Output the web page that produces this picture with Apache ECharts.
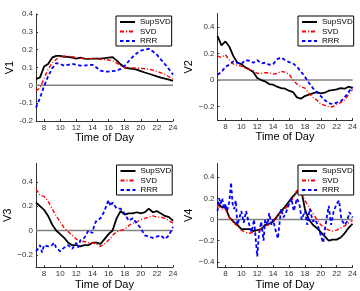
<!DOCTYPE html>
<html>
<head>
<meta charset="utf-8">
<script src="https://cdn.jsdelivr.net/npm/echarts@6/dist/echarts.min.js"></script>
<style>
  html, body { margin: 0; padding: 0; background: #fff; }
  #chart { width: 360px; height: 291px; }
</style>
</head>
<body>
<div id="chart"></div>
<script>
// half-hour grid used by the smooth curves
const hours = [7, 7.5, 8, 8.5, 9, 9.5, 10, 10.5, 11, 11.5, 12, 12.5, 13, 13.5, 14, 14.5, 15, 15.5,
  16, 16.5, 17, 17.5, 18, 18.5, 19, 19.5, 20, 20.5, 21, 21.5, 22, 22.5, 23, 23.5, 24];
const xTicks = [8, 10, 12, 14, 16, 18, 20, 22, 24];
const seriesNames = ["SupSVD", "SVD", "RRR"];

// V1
const v1Sup = [0.035, 0.045, 0.105, 0.12, 0.155, 0.165, 0.165, 0.16, 0.16, 0.155, 0.15, 0.155, 0.15, 0.148, 0.15, 0.15, 0.15, 0.152,
  0.155, 0.158, 0.14, 0.118, 0.1, 0.095, 0.093, 0.088, 0.08, 0.072, 0.065, 0.058, 0.05, 0.043, 0.037, 0.032, 0.025];
const v1Svd = [-0.03, -0.015, 0.04, 0.09, 0.125, 0.145, 0.16, 0.165, 0.163, 0.16, 0.155, 0.152, 0.15, 0.15, 0.15, 0.148, 0.147, 0.145,
  0.142, 0.138, 0.125, 0.11, 0.1, 0.1, 0.098, 0.096, 0.095, 0.093, 0.09, 0.085, 0.078, 0.07, 0.062, 0.048, 0.033];
const v1Rrr = [-0.125, -0.07, -0.005, 0.05, 0.095, 0.125, 0.12, 0.11, 0.115, 0.12, 0.115, 0.11, 0.11, 0.115, 0.115, 0.1, 0.082, 0.077,
  0.077, 0.08, 0.082, 0.092, 0.11, 0.135, 0.16, 0.18, 0.195, 0.2, 0.205, 0.19, 0.172, 0.145, 0.118, 0.09, 0.06];

// V2
const v2Sup = [0.33, 0.26, 0.29, 0.25, 0.18, 0.13, 0.12, 0.095, 0.08, 0.06, 0.015, 0.0, -0.01, -0.03, -0.035, -0.05, -0.06, -0.065,
  -0.08, -0.09, -0.13, -0.14, -0.12, -0.11, -0.1, -0.09, -0.1, -0.095, -0.08, -0.075, -0.07, -0.06, -0.065, -0.05, -0.06];
const v2Svd = [0.18, 0.17, 0.19, 0.15, 0.12, 0.11, 0.105, 0.09, 0.08, 0.07, 0.05, 0.05, 0.055, 0.055, 0.045, 0.05, 0.065, 0.06,
  0.045, 0.0, -0.03, -0.05, -0.06, -0.1, -0.13, -0.15, -0.18, -0.19, -0.2, -0.2, -0.18, -0.17, -0.15, -0.11, -0.07];
const v2Rrr = [0.04, 0.06, 0.1, 0.115, 0.14, 0.13, 0.12, 0.15, 0.145, 0.13, 0.15, 0.125, 0.13, 0.115, 0.12, 0.155, 0.17, 0.15,
  0.135, 0.125, 0.1, 0.065, 0.025, -0.02, -0.06, -0.09, -0.12, -0.15, -0.175, -0.18, -0.17, -0.16, -0.13, -0.09, -0.05];

// V3
const v3Sup = [0.23, 0.2, 0.17, 0.12, 0.05, 0.0, -0.03, -0.06, -0.1, -0.12, -0.12, -0.13, -0.12, -0.12, -0.1, -0.1, -0.11, -0.07,
  -0.03, 0.0, 0.1, 0.16, 0.13, 0.14, 0.14, 0.15, 0.14, 0.15, 0.18, 0.15, 0.16, 0.14, 0.12, 0.11, 0.08];
const v3Svd = [0.34, 0.29, 0.28, 0.24, 0.18, 0.12, 0.07, 0.02, -0.01, -0.04, -0.07, -0.09, -0.09, -0.1, -0.1, -0.11, -0.13, -0.11,
  -0.08, -0.04, -0.01, 0.0, 0.01, 0.04, 0.06, 0.07, 0.09, 0.1, 0.11, 0.12, 0.11, 0.11, 0.1, 0.08, 0.06];
const v3RrrHours = [7, 7.25, 7.5, 7.75, 8, 8.5, 9, 9.25, 9.5, 10, 10.5, 11, 11.5, 12, 12.25, 12.5, 13, 13.5, 14, 14.25, 14.5,
  15, 15.5, 15.75, 16, 16.25, 16.5, 17, 17.5, 18, 18.5, 19, 19.5, 20, 20.5, 21, 21.5, 22, 22.5, 23, 23.5, 24];
const v3Rrr = [-0.17, -0.15, -0.12, -0.18, -0.12, -0.13, -0.12, -0.1, -0.14, -0.17, -0.14, -0.12, -0.15, -0.1, -0.14, -0.08, -0.06, 0.0, -0.02, 0.05, 0.08,
  0.1, 0.16, 0.21, 0.25, 0.2, 0.23, 0.18, 0.18, 0.14, 0.08, 0.1, 0.06, 0.02, -0.04, -0.05, -0.06, -0.05, -0.04, -0.07, -0.04, 0.03];

// V4
const v4Sup = [0.16, 0.12, 0.11, 0.02, -0.02, -0.05, -0.09, -0.09, -0.09, -0.11, -0.1, -0.09, -0.05, -0.04, -0.02, 0.03, 0.08, 0.12,
  0.17, 0.22, 0.26, 0.3, 0.1, 0.0, -0.05, -0.08, -0.12, -0.16, -0.2, -0.19, -0.19, -0.17, -0.13, -0.08, -0.04];
const v4Svd = [0.14, 0.1, 0.1, 0.02, -0.03, -0.06, -0.1, -0.12, -0.13, -0.12, -0.11, -0.09, -0.06, -0.05, -0.01, 0.03, 0.07, 0.1,
  0.14, 0.2, 0.28, 0.25, 0.18, 0.12, 0.06, 0.0, -0.05, -0.08, -0.1, -0.11, -0.1, -0.08, -0.06, -0.03, -0.01];
const v4RrrHours = [7, 7.2, 7.4, 7.6, 7.8, 8, 8.2, 8.5, 8.7, 8.9, 9.1, 9.3, 9.5, 9.7, 10, 10.3, 10.6, 11, 11.3, 11.6,
  12, 12.2, 12.5, 12.8, 13, 13.3, 13.5, 13.8, 14, 14.3, 14.6, 15, 15.3, 15.6, 16, 16.3, 16.6, 17, 17.3, 17.6,
  18, 18.3, 18.6, 19, 19.3, 19.6, 20, 20.3, 20.6, 21, 21.3, 21.6, 22, 22.3, 22.6, 23, 23.3, 23.6, 24];
const v4Rrr = [0.08, 0.2, 0.15, 0.2, 0.1, 0.15, 0.08, 0.17, 0.35, 0.15, 0.1, 0.18, -0.05, 0.0, 0.08, -0.03, 0.08, -0.05, -0.12, 0.0,
  -0.35, -0.15, -0.02, -0.2, 0.0, -0.05, 0.06, -0.05, 0.0, -0.1, -0.18, 0.1, 0.02, 0.06, 0.15, 0.2, 0.08, 0.2, 0.15, 0.0,
  0.08, -0.05, 0.1, -0.02, 0.0, -0.05, -0.15, -0.22, -0.05, 0.13, -0.05, 0.07, 0.15, 0.18, 0.0, -0.05, -0.02, 0.07, 0.02];

const panels = [
  { name: "V1", grid: { left: 36, top: 14, width: 137, height: 107 }, legend: { left: 116, top: 16 },
    yMin: -0.2, yMax: 0.4, yTicks: [-0.2, -0.1, 0, 0.1, 0.2, 0.3, 0.4], minus: "-",
    lines: [[hours, v1Sup], [hours, v1Svd], [hours, v1Rrr]] },
  { name: "V2", grid: { left: 217.5, top: 13.5, width: 136.5, height: 106.5 }, legend: { left: 298, top: 16 },
    yMin: -0.3, yMax: 0.5, yTicks: [-0.2, 0, 0.2, 0.4], minus: "\u2212",
    lines: [[hours, v2Sup], [hours, v2Svd], [hours, v2Rrr]] },
  { name: "V3", grid: { left: 36, top: 163.5, width: 137, height: 105.5 }, legend: { left: 116.5, top: 165 },
    yMin: -0.3, yMax: 0.55, yTicks: [-0.2, 0, 0.2, 0.4], minus: "\u2212",
    lines: [[hours, v3Sup], [hours, v3Svd], [v3RrrHours, v3Rrr]] },
  { name: "V4", grid: { left: 217.5, top: 163.5, width: 137.5, height: 105.5 }, legend: { left: 298, top: 165 },
    yMin: -0.45, yMax: 0.53, yTicks: [-0.4, -0.2, 0, 0.2, 0.4], minus: "\u2212",
    lines: [[hours, v4Sup], [hours, v4Svd], [v4RrrHours, v4Rrr]] },
];

const lineStyles = [
  { color: "#000000", width: 1.8, type: "solid" },
  { color: "#ff0000", width: 1.4, type: [4, 2, 1, 2] },
  { color: "#0000ff", width: 1.8, type: [3.5, 2.5] },
];

const font = "Liberation Sans, Arial, sans-serif";
const pairs = (xs, ys) => xs.map((x, i) => [x, ys[i]]);
const fmt = (minus) => (v) => {
  const r = Math.round(v * 10) / 10;
  if (r === 0) return "0";
  return (r < 0 ? minus : "") + Math.abs(r).toString();
};

const option = { animation: false, grid: [], xAxis: [], yAxis: [], legend: [], series: [] };

panels.forEach((p, i) => {
  option.grid.push(p.grid);
  option.xAxis.push({
    type: "value", gridIndex: i, min: 7, max: 24,
    name: "Time of Day", nameLocation: "middle", nameGap: 10,
    nameTextStyle: { fontFamily: font, fontSize: 11, color: "#000" },
    axisLine: { onZero: false, lineStyle: { color: "#333", width: 1 } },
    axisTick: { inside: true, length: 2, customValues: xTicks, lineStyle: { color: "#333" } },
    axisLabel: { customValues: xTicks, fontFamily: font, fontSize: 8, color: "#333", margin: 3 },
    splitLine: { show: false },
  });
  option.yAxis.push({
    type: "value", gridIndex: i, min: p.yMin, max: p.yMax,
    name: p.name, nameLocation: "middle", nameGap: 17,
    nameTextStyle: { fontFamily: font, fontSize: 11, color: "#000" },
    axisLine: { show: true, onZero: false, lineStyle: { color: "#333", width: 1 } },
    axisTick: { show: true, inside: true, length: 2, customValues: p.yTicks, lineStyle: { color: "#333" } },
    axisLabel: { customValues: p.yTicks, formatter: fmt(p.minus), fontFamily: font, fontSize: 8, color: "#333", margin: 3 },
    splitLine: { show: false },
  });
  option.legend.push({
    left: p.legend.left, top: p.legend.top, orient: "vertical",
    data: seriesNames, selectedMode: false,
    itemWidth: 15, itemHeight: 8, itemGap: 1.5,
    padding: [2, 1, 1, 3],
    itemStyle: { opacity: 0 },
    borderColor: "#000", borderWidth: 1, backgroundColor: "#fff",
    textStyle: { fontFamily: font, fontSize: 8, color: "#000" },
  });
  // zero reference line
  option.series.push({
    type: "line", xAxisIndex: i, yAxisIndex: i, data: [[7, 0], [24, 0]],
    symbol: "none", silent: true, z: 1,
    lineStyle: { color: "#808080", width: 1.5 },
  });
  p.lines.forEach(([xs, ys], k) => {
    option.series.push({
      name: seriesNames[k], type: "line", xAxisIndex: i, yAxisIndex: i,
      data: pairs(xs, ys), symbol: "none", z: 2 + k,
      color: lineStyles[k].color,
      lineStyle: lineStyles[k],
    });
  });
});

const chart = echarts.init(document.getElementById("chart"));
chart.setOption(option);
</script>
</body>
</html>
